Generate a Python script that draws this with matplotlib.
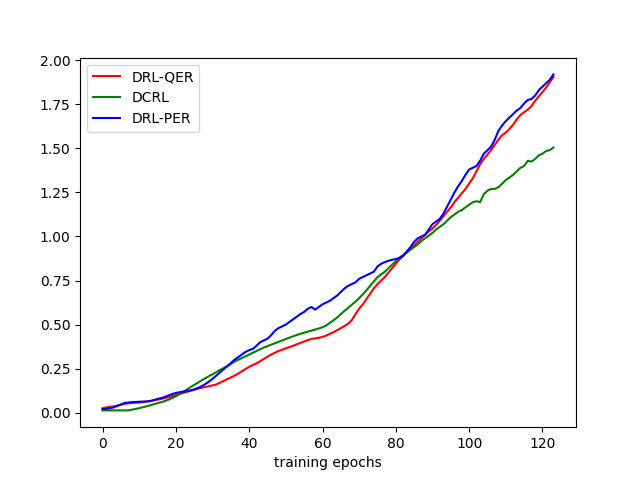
import matplotlib
matplotlib.use("Agg")
import matplotlib.pyplot as plt
import numpy as np

qer = [0.025,0.03,0.033,0.036,0.04,0.045,0.05,0.053,0.055,0.056,
       0.058,0.06,0.063,0.066,0.07,0.074,0.078,0.083,0.088,0.094,
       0.10,0.106,0.112,0.118,0.124,0.13,0.136,0.141,0.146,0.15,
       0.155,0.16,0.17,0.18,0.19,0.2,0.21,0.222,0.235,0.248,
       0.26,0.27,0.28,0.292,0.305,0.318,0.33,0.34,0.35,0.357,
       0.365,0.372,0.38,0.388,0.396,0.404,0.412,0.418,0.422,0.425,
       0.43,0.438,0.447,0.457,0.468,0.48,0.492,0.505,0.525,0.56,
       0.59,0.615,0.645,0.675,0.705,0.73,0.75,0.77,0.795,0.82,
       0.845,0.87,0.89,0.91,0.93,0.95,0.97,0.99,1.01,1.03,
       1.045,1.065,1.09,1.115,1.14,1.165,1.195,1.22,1.245,1.27,
       1.30,1.33,1.37,1.41,1.44,1.465,1.49,1.52,1.55,1.575,
       1.59,1.61,1.635,1.665,1.69,1.705,1.72,1.74,1.77,1.795,
       1.82,1.845,1.875,1.905]

dcrl = [0.013,0.013,0.013,0.013,0.013,0.013,0.013,0.013,0.017,0.021,
        0.026,0.031,0.036,0.042,0.048,0.054,0.06,0.066,0.074,0.083,
        0.093,0.105,0.118,0.131,0.145,0.158,0.17,0.183,0.195,0.207,
        0.218,0.23,0.242,0.253,0.264,0.276,0.29,0.3,0.31,0.32,
        0.33,0.34,0.35,0.36,0.37,0.378,0.386,0.394,0.402,0.41,
        0.418,0.426,0.434,0.441,0.448,0.454,0.46,0.466,0.472,0.478,
        0.485,0.495,0.51,0.525,0.54,0.56,0.578,0.595,0.613,0.63,
        0.65,0.672,0.695,0.72,0.745,0.77,0.785,0.8,0.82,0.84,
        0.86,0.88,0.895,0.91,0.925,0.94,0.955,0.975,0.99,1.005,
        1.02,1.04,1.055,1.07,1.09,1.11,1.125,1.14,1.15,1.165,
        1.18,1.195,1.2,1.195,1.24,1.26,1.27,1.27,1.28,1.3,
        1.32,1.335,1.35,1.37,1.39,1.40,1.43,1.425,1.44,1.46,
        1.47,1.485,1.49,1.505]

per = [0.02,0.022,0.025,0.03,0.038,0.047,0.055,0.058,0.06,0.061,
       0.062,0.063,0.064,0.066,0.072,0.078,0.083,0.09,0.098,0.106,
       0.112,0.116,0.12,0.123,0.127,0.132,0.14,0.15,0.162,0.176,
       0.192,0.21,0.228,0.246,0.264,0.282,0.3,0.315,0.33,0.345,
       0.355,0.362,0.38,0.4,0.41,0.42,0.44,0.465,0.48,0.49,
       0.50,0.515,0.53,0.545,0.56,0.572,0.59,0.6,0.585,0.6,
       0.615,0.625,0.635,0.65,0.665,0.685,0.705,0.72,0.73,0.74,
       0.76,0.77,0.78,0.79,0.8,0.83,0.845,0.855,0.862,0.868,
       0.872,0.878,0.89,0.915,0.94,0.97,0.99,1.0,1.01,1.04,
       1.07,1.085,1.1,1.13,1.17,1.21,1.25,1.285,1.315,1.35,
       1.38,1.39,1.40,1.43,1.47,1.49,1.51,1.55,1.6,1.63,
       1.655,1.675,1.695,1.715,1.73,1.755,1.775,1.78,1.80,1.83,
       1.85,1.87,1.89,1.92]

epochs = np.arange(len(qer))

fig, ax = plt.subplots(figsize=(6.4, 4.8), dpi=100)
ax.plot(epochs, qer, color="red", label="DRL-QER")
ax.plot(epochs, dcrl, color="green", label="DCRL")
ax.plot(epochs, per, color="blue", label="DRL-PER")
ax.set_xlabel("training epochs")
ax.legend(loc="upper left")
fig.savefig("out.png", dpi=100)
